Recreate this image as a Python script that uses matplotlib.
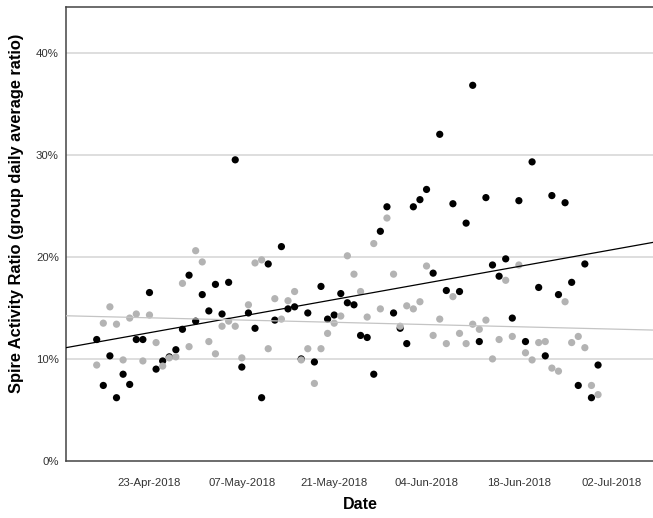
import numpy as np
import matplotlib
matplotlib.use("Agg")
import matplotlib.pyplot as plt
import matplotlib.dates as mdates
from matplotlib.ticker import FuncFormatter

plt.rcParams['font.family'] = ['Liberation Sans', 'DejaVu Sans']

start_date = '2018-04-15'
end_date = '2018-07-01'   # exclusive

# Black series (%)
black_vals = [11.9, 7.4, 10.3, 6.2, 8.5, 7.5, 11.9, 11.9, 16.5, 9.0,
              9.8, 10.2, 10.9, 12.9, 18.2, 13.7, 16.3, 14.7, 17.3, 14.4,
              17.5, 29.5, 9.2, 14.5, 13.0, 6.2, 19.3, 13.8, 21.0, 14.9,
              15.1, 10.0, 14.5, 9.7, 17.1, 13.9, 14.3, 16.4, 15.5, 15.3,
              12.3, 12.1, 8.5, 22.5, 24.9, 14.5, 13.0, 11.5, 24.9, 25.6,
              26.6, 18.4, 32.0, 16.7, 25.2, 16.6, 23.3, 36.8, 11.7, 25.8,
              19.2, 18.1, 19.8, 14.0, 25.5, 11.7, 29.3, 17.0, 10.3, 26.0,
              16.3, 25.3, 17.5, 7.4, 19.3, 6.2, 9.4]

# Gray series (%)
gray_vals = [9.4, 13.5, 15.1, 13.4, 9.9, 14.0, 14.4, 9.8, 14.3, 11.6,
             9.3, 10.1, 10.2, 17.4, 11.2, 20.6, 19.5, 11.7, 10.5, 13.2,
             13.7, 13.2, 10.1, 15.3, 19.4, 19.7, 11.0, 15.9, 13.9, 15.7,
             16.6, 9.9, 11.0, 7.6, 11.0, 12.5, 13.5, 14.2, 20.1, 18.3,
             16.6, 14.1, 21.3, 14.9, 23.8, 18.3, 13.2, 15.2, 14.9, 15.6,
             19.1, 12.3, 13.9, 11.5, 16.1, 12.5, 11.5, 13.4, 12.9, 13.8,
             10.0, 11.9, 17.7, 12.2, 19.2, 10.6, 9.9, 11.6, 11.7, 9.1,
             8.8, 15.6, 11.6, 12.2, 11.1, 7.4, 6.5]

tick_dates = ['2018-04-23', '2018-05-07', '2018-05-21', '2018-06-04', '2018-06-18', '2018-07-02']
y_ticks = [0, 10, 20, 30, 40]

dates = np.arange(start_date, end_date, dtype='datetime64[D]')
xnum = mdates.date2num(dates.astype('datetime64[s]').astype(object))

fig = plt.figure(figsize=(6.53, 5.18), dpi=100)
ax = fig.add_axes([65.7 / 653, 57 / 518, 1 - 65.7 / 653, (461 - 6.7) / 518])

x0 = xnum[0]
xlim = (x0 - 4.70, x0 + 84.33)
ax.set_xlim(xlim)
ax.set_ylim(0, 44.5)

for yt in y_ticks[1:]:
    ax.axhline(yt, color='#d4d4d4', lw=1.1, zorder=0)

ax.scatter(xnum, black_vals, s=27, color='black', edgecolors='none', zorder=2)
ax.scatter(xnum, gray_vals, s=27, color='#b3b3b3', edgecolors='none', zorder=3)

xx = np.array(xlim)
bk = np.polyfit(xnum, black_vals, 1)
gk = np.polyfit(xnum, gray_vals, 1)
ax.plot(xx, np.polyval(bk, xx), color='black', lw=0.9, zorder=4)
ax.plot(xx, np.polyval(gk, xx), color='#c4c4c4', lw=0.9, zorder=4)

tick_nums = mdates.date2num(np.array(tick_dates, dtype='datetime64[s]').astype(object))
ax.set_xticks(tick_nums)
ax.set_xticklabels([mdates.num2date(t).strftime('%d-%b-%Y') for t in tick_nums])
ax.set_yticks(y_ticks)
ax.yaxis.set_major_formatter(FuncFormatter(lambda v, p: f'{int(v)}%'))

ax.tick_params(axis='both', length=0, labelsize=8.2, labelcolor='#333333')
ax.tick_params(axis='x', pad=12)
ax.tick_params(axis='y', pad=5)

for s in ['left', 'bottom', 'top']:
    ax.spines[s].set_color('#444444')
    ax.spines[s].set_linewidth(1.1)
ax.spines['right'].set_visible(False)

ax.set_xlabel('Date', fontsize=11.5, fontweight='bold')
ax.set_ylabel('Spire Activity Ratio (group daily average ratio)', fontsize=11.8,
              fontweight='bold')
ax.yaxis.set_label_coords(-(65.7 - 24) / (653 - 65.7), (461 - 213) / (461 - 6.7))
ax.xaxis.set_label_coords((360 - 65.7) / (653 - 65.7), -(497 - 461) / (461 - 6.7))

fig.savefig('out.png', dpi=100)
